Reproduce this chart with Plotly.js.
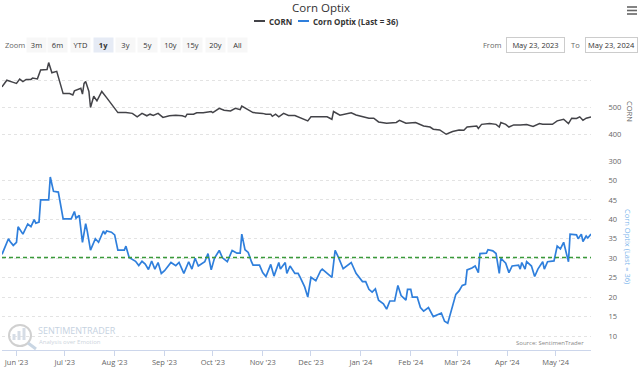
<!DOCTYPE html>
<html>
<head>
<meta charset="utf-8">
<script src="https://cdn.plot.ly/plotly-3.0.1.min.js"></script>
<style>
html,body{margin:0;padding:0;background:#fff;}
#chart{width:642px;height:369px;}
</style>
</head>
<body>
<div id="chart"></div>
<script>
// ---------------- DATA ----------------
const cornDates = ["2023-05-23","2023-05-26","2023-05-30","2023-06-01","2023-06-03","2023-06-05","2023-06-07","2023-06-10","2023-06-11","2023-06-14","2023-06-16","2023-06-20","2023-06-21","2023-06-23","2023-06-26","2023-06-28","2023-06-30","2023-07-04","2023-07-06","2023-07-07","2023-07-11","2023-07-12","2023-07-13","2023-07-14","2023-07-16","2023-07-17","2023-07-19","2023-07-21","2023-07-24","2023-07-27","2023-07-31","2023-08-03","2023-08-08","2023-08-12","2023-08-15","2023-08-18","2023-08-21","2023-08-23","2023-08-25","2023-08-28","2023-08-31","2023-09-04","2023-09-08","2023-09-12","2023-09-14","2023-09-15","2023-09-19","2023-09-21","2023-09-25","2023-09-30","2023-10-01","2023-10-05","2023-10-08","2023-10-12","2023-10-15","2023-10-18","2023-10-19","2023-10-22","2023-10-26","2023-11-01","2023-11-03","2023-11-06","2023-11-07","2023-11-09","2023-11-11","2023-11-14","2023-11-17","2023-11-21","2023-11-26","2023-11-29","2023-12-01","2023-12-04","2023-12-06","2023-12-11","2023-12-14","2023-12-15","2023-12-19","2023-12-26","2023-12-29","2024-01-02","2024-01-06","2024-01-09","2024-01-12","2024-01-17","2024-01-23","2024-01-25","2024-01-29","2024-02-04","2024-02-09","2024-02-13","2024-02-15","2024-02-19","2024-02-23","2024-02-27","2024-03-02","2024-03-05","2024-03-07","2024-03-13","2024-03-14","2024-03-16","2024-03-21","2024-03-25","2024-03-27","2024-03-28","2024-03-31","2024-04-02","2024-04-05","2024-04-09","2024-04-12","2024-04-13","2024-04-17","2024-04-21","2024-04-23","2024-04-29","2024-05-02","2024-05-06","2024-05-09","2024-05-11","2024-05-14","2024-05-16","2024-05-18","2024-05-20","2024-05-23"];
const cornValues = [577,602,594,590,606,597,605,605,610,607,640,642,668,630,635,590,552,552,547,562,572,550,590,597,560,500,542,525,560,537,506,481,481,478,465,478,469,475,470,478,463,469,471,469,465,475,475,480,480,485,481,497,490,487,497,492,505,496,481,478,475,475,467,475,465,478,470,470,456,450,465,465,467,465,456,485,471,480,472,466,460,460,446,441,444,452,441,444,431,427,419,416,400,410,416,415,427,431,422,437,440,437,427,444,437,427,435,435,434,436,429,440,437,437,450,456,440,460,459,465,452,460,465];

const optixDates = ["2023-05-23","2023-05-25","2023-05-27","2023-05-28","2023-05-30","2023-06-01","2023-06-02","2023-06-05","2023-06-07","2023-06-08","2023-06-10","2023-06-12","2023-06-13","2023-06-15","2023-06-16","2023-06-21","2023-06-22","2023-06-24","2023-06-27","2023-06-29","2023-06-30","2023-07-05","2023-07-07","2023-07-08","2023-07-10","2023-07-12","2023-07-14","2023-07-15","2023-07-17","2023-07-20","2023-07-22","2023-07-25","2023-07-26","2023-07-27","2023-07-30","2023-08-01","2023-08-03","2023-08-07","2023-08-08","2023-08-10","2023-08-14","2023-08-16","2023-08-18","2023-08-20","2023-08-22","2023-08-24","2023-08-26","2023-08-28","2023-08-30","2023-09-01","2023-09-05","2023-09-08","2023-09-10","2023-09-13","2023-09-16","2023-09-18","2023-09-20","2023-09-22","2023-09-26","2023-09-28","2023-09-30","2023-10-02","2023-10-05","2023-10-07","2023-10-10","2023-10-13","2023-10-16","2023-10-18","2023-10-19","2023-10-21","2023-10-23","2023-10-25","2023-10-26","2023-10-30","2023-11-01","2023-11-03","2023-11-06","2023-11-08","2023-11-11","2023-11-12","2023-11-15","2023-11-16","2023-11-18","2023-11-21","2023-11-23","2023-11-24","2023-11-27","2023-11-29","2023-12-01","2023-12-04","2023-12-07","2023-12-08","2023-12-11","2023-12-14","2023-12-16","2023-12-18","2023-12-21","2023-12-23","2023-12-26","2023-12-29","2023-12-31","2024-01-02","2024-01-04","2024-01-06","2024-01-08","2024-01-10","2024-01-12","2024-01-15","2024-01-17","2024-01-19","2024-01-22","2024-01-24","2024-01-26","2024-01-29","2024-01-30","2024-02-01","2024-02-02","2024-02-05","2024-02-07","2024-02-09","2024-02-12","2024-02-15","2024-02-20","2024-02-22","2024-02-24","2024-02-27","2024-02-29","2024-03-02","2024-03-04","2024-03-06","2024-03-07","2024-03-10","2024-03-12","2024-03-14","2024-03-15","2024-03-19","2024-03-20","2024-03-23","2024-03-25","2024-03-27","2024-03-28","2024-03-31","2024-04-02","2024-04-04","2024-04-08","2024-04-09","2024-04-10","2024-04-12","2024-04-13","2024-04-16","2024-04-18","2024-04-20","2024-04-23","2024-04-24","2024-04-26","2024-04-30","2024-05-02","2024-05-04","2024-05-06","2024-05-09","2024-05-10","2024-05-14","2024-05-15","2024-05-17","2024-05-18","2024-05-20","2024-05-21","2024-05-23"];
const optixValues = [31.0,33.0,35.0,34.3,33.3,34.1,38.1,36.2,38.1,38.8,38.1,39.9,39.0,39.3,45.0,45.0,50.9,47.2,47.0,42.0,40.1,40.1,42.0,40.3,41.0,34.1,38.9,36.9,32.1,35.0,34.1,37.0,36.2,37.0,36.7,36.0,32.1,32.1,33.1,30.2,29.2,28.1,29.2,28.5,27.1,29.3,27.2,28.9,26.1,26.8,28.9,28.1,28.9,26.1,29.1,27.2,30.0,28.0,29.1,31.2,27.0,30.0,32.0,30.1,29.1,32.0,31.3,31.3,36.2,32.2,31.5,29.1,28.2,28.2,26.3,25.3,28.4,25.4,28.9,27.2,28.9,26.1,28.0,26.1,26.1,25.3,22.7,20.0,25.1,24.2,26.8,27.2,26.1,25.1,32.0,30.3,27.3,28.0,28.9,26.1,25.1,24.0,24.0,22.0,21.3,22.1,19.2,18.3,16.9,19.0,19.0,23.0,20.4,19.2,22.0,22.0,20.0,20.0,17.3,16.4,17.3,15.0,15.9,13.8,13.3,17.6,20.7,21.6,23.0,23.3,27.0,27.5,28.0,26.3,31.2,31.3,32.2,31.9,31.2,26.1,30.0,28.7,26.3,28.0,28.2,27.2,28.9,27.2,29.1,28.0,25.3,27.2,29.1,27.2,29.1,29.3,33.1,32.4,34.1,29.1,36.2,36.0,35.0,36.2,34.3,35.7,35.2,36.2];

const optixAverage = 30.2;
const cornTicks = [300,400,500,600];
const cornTickText = ["300","400","500",""];
const optixTicks = [10,15,20,25,30,35,40,45,50,55];
const optixTickText = ["10","15","20","25","30","35","40","45","50",""];
const dateRange = ["2023-05-23","2024-05-23"];
const zoomButtons = ["3m","6m","YTD","1y","3y","5y","10y","15y","20y","All"];
const selectedButton = "1y";
const fromDate = "May 23, 2023";
const toDate = "May 23, 2024";
const lastOptix = 36;

// ---------------- LAYOUT HELPERS ----------------
const PL = 2, PR = 591, PT = 54, PB = 350;
const px = x => (x - PL) / (PR - PL);
const py = y => (PB - y) / (PB - PT);
const FONT = "Open Sans, Arial, sans-serif";
const BLUE = "#2f7fdc";
const DARK = "#434348";

const traces = [
  {x: cornDates, y: cornValues, type: "scatter", mode: "lines", name: "CORN",
   xaxis: "x", yaxis: "y", line: {color: DARK, width: 1.5}, hoverinfo: "skip"},
  {x: optixDates, y: optixValues, type: "scatter", mode: "lines", name: "Corn Optix (Last = " + lastOptix + ")",
   xaxis: "x", yaxis: "y2", line: {color: BLUE, width: 1.7}, hoverinfo: "skip"}
];

const annotations = [];
const shapes = [];

// legend
const legendY = 21;
shapes.push({type: "line", xref: "paper", yref: "paper", x0: px(254), x1: px(265), y0: py(legendY), y1: py(legendY), line: {color: DARK, width: 2}});
shapes.push({type: "line", xref: "paper", yref: "paper", x0: px(298), x1: px(309), y0: py(legendY), y1: py(legendY), line: {color: BLUE, width: 2}});
annotations.push({xref: "paper", yref: "paper", x: px(267), y: py(legendY), xanchor: "left", yanchor: "middle", showarrow: false,
  text: "<b>CORN</b>", font: {family: FONT, size: 8, color: "#333"}});
annotations.push({xref: "paper", yref: "paper", x: px(311), y: py(legendY), xanchor: "left", yanchor: "middle", showarrow: false,
  text: "<b>Corn Optix (Last = " + lastOptix + ")</b>", font: {family: FONT, size: 8, color: "#333"}});

// zoom buttons
const rowY = 45;
annotations.push({xref: "paper", yref: "paper", x: px(3), y: py(rowY), xanchor: "left", yanchor: "middle", showarrow: false,
  text: "Zoom", font: {family: FONT, size: 7.5, color: "#666"}});
const btnCenters = [36, 57, 80, 103, 125, 147, 170, 192, 215, 237];
zoomButtons.forEach((b, i) => {
  const sel = b === selectedButton;
  annotations.push({xref: "paper", yref: "paper", x: px(btnCenters[i]), y: py(rowY), xanchor: "center", yanchor: "middle",
    showarrow: false, text: sel ? "<b>" + b + "</b>" : b, width: 17, height: 12, borderpad: 1,
    bgcolor: sel ? "#e6ebf5" : "#f7f7f7", font: {family: FONT, size: 7.5, color: "#333"}});
});
annotations.push({xref: "paper", yref: "paper", x: px(492), y: py(rowY), xanchor: "center", yanchor: "middle", showarrow: false,
  text: "From", font: {family: FONT, size: 7.5, color: "#666"}});
annotations.push({xref: "paper", yref: "paper", x: px(535), y: py(rowY), xanchor: "center", yanchor: "middle", showarrow: false,
  text: fromDate, width: 55, height: 12, borderpad: 1, bordercolor: "#cccccc", borderwidth: 1, bgcolor: "#fff",
  font: {family: FONT, size: 7.5, color: "#333"}});
annotations.push({xref: "paper", yref: "paper", x: px(575), y: py(rowY), xanchor: "center", yanchor: "middle", showarrow: false,
  text: "To", font: {family: FONT, size: 7.5, color: "#666"}});
annotations.push({xref: "paper", yref: "paper", x: px(611), y: py(rowY), xanchor: "center", yanchor: "middle", showarrow: false,
  text: toDate, width: 49, height: 12, borderpad: 1, bordercolor: "#cccccc", borderwidth: 1, bgcolor: "#fff",
  font: {family: FONT, size: 7.5, color: "#333"}});

// menu icon
[7, 10.5, 14].forEach(y => shapes.push({type: "line", xref: "paper", yref: "paper", x0: px(627), x1: px(637), y0: py(y), y1: py(y), line: {color: "#666", width: 1.6}}));

// axis titles (rotated, reading top to bottom)
annotations.push({xref: "paper", yref: "paper", x: px(630), y: py(111), xanchor: "center", yanchor: "middle", showarrow: false,
  textangle: 90, text: "CORN", font: {family: FONT, size: 7.5, color: "#666"}});
annotations.push({xref: "paper", yref: "paper", x: px(628), y: py(246), xanchor: "center", yanchor: "middle", showarrow: false,
  textangle: 90, text: "Corn Optix (Last = " + lastOptix + ")", font: {family: FONT, size: 7.5, color: "#7cb5ec"}});

// average line
shapes.push({type: "line", xref: "paper", yref: "y2", x0: 0, x1: 1, y0: optixAverage, y1: optixAverage,
  line: {color: "#3a9a3a", width: 1.4, dash: "4px,3px"}});

// source
annotations.push({xref: "paper", yref: "paper", x: px(586), y: py(343), xanchor: "right", yanchor: "middle", showarrow: false,
  text: "Source: SentimenTrader", font: {family: FONT, size: 6, color: "#888"}});

// watermark
annotations.push({xref: "paper", yref: "paper", x: px(37), y: py(330.5), xanchor: "left", yanchor: "middle", showarrow: false,
  borderpad: 0, text: "SENTIMENTRADER", font: {family: FONT, size: 9, color: "#c6d2df"}});
annotations.push({xref: "paper", yref: "paper", x: px(38), y: py(342), xanchor: "left", yanchor: "middle", showarrow: false,
  borderpad: 0, text: "Analysis over Emotion", font: {family: FONT, size: 6, color: "#cdd5dd"}});
shapes.push({type: "circle", xref: "paper", yref: "paper", x0: px(9), x1: px(31), y0: py(325), y1: py(346), line: {color: "#d0d0d0", width: 2}});
shapes.push({type: "line", xref: "paper", yref: "paper", x0: px(28), x1: px(36), y0: py(343), y1: py(349), line: {color: "#c9d6e3", width: 3}});
[[14, 340, 334], [19, 340, 331], [24, 340, 328]].forEach(b => shapes.push({type: "rect", xref: "paper", yref: "paper",
  x0: px(b[0] - 1.5), x1: px(b[0] + 1.5), y0: py(b[1]), y1: py(b[2]), fillcolor: "#d6dde6", line: {width: 0}}));

const layout = {
  width: 642, height: 369,
  margin: {l: PL, r: 642 - PR, t: PT, b: 369 - PB, pad: 0},
  paper_bgcolor: "#fff", plot_bgcolor: "#fff",
  showlegend: false,
  font: {family: FONT, color: "#666"},
  title: {text: "Corn Optix", x: 0.5, xref: "container", xanchor: "center", y: 1 - 8 / 369, yref: "container", yanchor: "middle",
    font: {family: FONT, size: 11.5, color: "#333"}},
  xaxis: {type: "date", range: dateRange, anchor: "y2", domain: [0, 1], showgrid: false, zeroline: false,
    showline: true, linecolor: "#ccd6eb", linewidth: 1, ticks: "outside", ticklen: 5, tickcolor: "#ccd6eb",
    dtick: "M1", tick0: "2023-06-01", tickformat: "%b '%y", tickfont: {family: FONT, size: 7.5, color: "#666"}},
  yaxis: {domain: [py(161), 1], anchor: "x", side: "right", range: [300, 700], tickvals: cornTicks, ticktext: cornTickText,
    showgrid: true, gridcolor: "#e3e3e3", griddash: "dot", zeroline: false, showline: false,
    ticks: "outside", ticklen: 15, tickcolor: "rgba(0,0,0,0)", tickfont: {family: FONT, size: 7.5, color: "#666"}},
  yaxis2: {domain: [0, py(161)], anchor: "x", side: "right", range: [10 - 14 / 3.889, 55], tickvals: optixTicks, ticktext: optixTickText,
    showgrid: true, gridcolor: "#e3e3e3", griddash: "dot", zeroline: false, showline: false,
    ticks: "outside", ticklen: 15, tickcolor: "rgba(0,0,0,0)", tickfont: {family: FONT, size: 7.5, color: "#666"}},
  annotations: annotations,
  shapes: shapes
};

Plotly.newPlot("chart", traces, layout, {staticPlot: true, displayModeBar: false});
</script>
</body>
</html>
